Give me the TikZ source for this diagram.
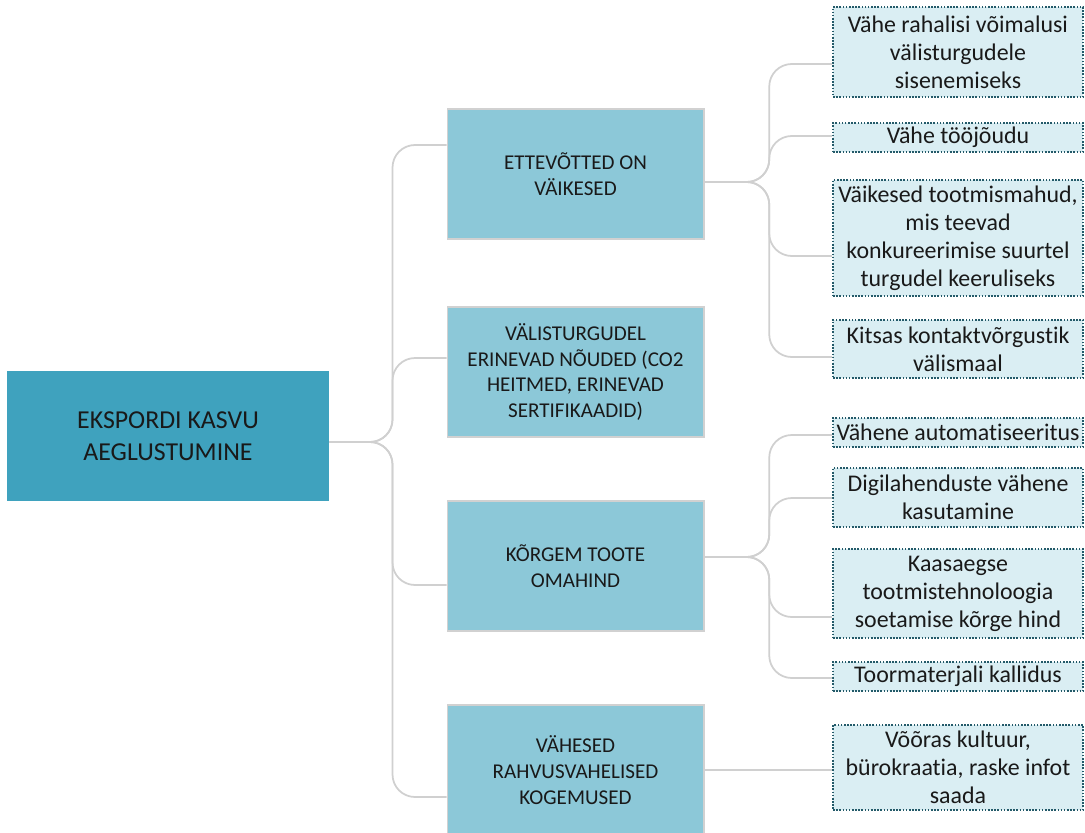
\documentclass[tikz,border=0pt]{standalone}
\usepackage{fontspec}
\setmainfont[RawFeature={-liga;-clig;-calt;-dlig}]{Carlito}
\usetikzlibrary{positioning,calc}
\definecolor{rootteal}{RGB}{63,162,190}
\definecolor{midteal}{RGB}{140,200,216}
\definecolor{leafteal}{RGB}{218,238,243}
\definecolor{dotline}{RGB}{35,90,105}
\definecolor{linkgray}{RGB}{208,208,208}

\tikzset{
  rootbox/.style={rectangle, fill=rootteal, minimum width=6.44cm, minimum height=2.6cm,
    align=center, inner sep=0pt, text=black!90, font=\fontsize{14.7}{17.9}\selectfont},
  midbox/.style={rectangle, fill=midteal, draw=black!18, line width=0.6pt,
    minimum width=5.14cm, minimum height=2.6cm, align=center, inner sep=0pt,
    text=black!90, font=\fontsize{12}{14.7}\selectfont},
  leafbox/.style={rectangle, fill=leafteal, draw=dotline, line width=0.9pt,
    dash pattern=on 0.9pt off 0.9pt, minimum width=5cm, align=center, inner sep=0pt,
    text=black!90, font=\fontsize{13.6}{16}\selectfont},
  link/.style={draw=linkgray, line width=1pt, rounded corners=0.45cm},
  branch/.style={to path={-| ([xshift=-#1]\tikztotarget) -- (\tikztotarget)}},
}

\begin{document}
\begin{tikzpicture}[x=0.02cm, y=-0.02cm]
\useasboundingbox (0,0) rectangle (1085,832);

% Root
\node[rootbox] (root) at (168,436) {EKSPORDI KASVU\\AEGLUSTUMINE};

% Middle level
\node[midbox] (m1) at (575.5,174) {ETTEVÕTTED ON\\VÄIKESED};
\node[midbox] (m2) at (575.5,372) {VÄLISTURGUDEL\\ERINEVAD NÕUDED (CO2\\HEITMED, ERINEVAD\\SERTIFIKAADID)};
\node[midbox] (m3) at (575.5,566) {KÕRGEM TOOTE\\OMAHIND};
\node[midbox] (m4) at (575.5,770) {VÄHESED\\RAHVUSVAHELISED\\KOGEMUSED};

% Leaves
\node[leafbox, minimum height=1.8cm] (l1) at (958,52) {Vähe rahalisi võimalusi\\välisturgudele\\sisenemiseks};
\node[leafbox, minimum height=0.58cm] (l2) at (958,137.5) {Vähe tööjõudu};
\node[leafbox, minimum height=2.32cm] (l3) at (958,238) {Väikesed tootmismahud,\\mis teevad\\konkureerimise suurtel\\turgudel keeruliseks};
\node[leafbox, minimum height=1.16cm] (l4) at (958,349) {Kitsas kontaktvõrgustik\\välismaal};
\node[leafbox, minimum height=0.58cm] (l5) at (958,432.5) {Vähene automatiseeritus};
\node[leafbox, minimum height=1.18cm] (l6) at (958,497.5) {Digilahenduste vähene\\kasutamine};
\node[leafbox, minimum height=1.78cm] (l7) at (958,593.5) {Kaasaegse\\tootmistehnoloogia\\soetamise kõrge hind};
\node[leafbox, minimum height=0.58cm] (l8) at (958,676.5) {Toormaterjali kallidus};
\node[leafbox, minimum height=1.7cm] (l9) at (958,767.5) {Võõras kultuur,\\bürokraatia, raske infot\\saada};

% Root to middle
\draw[link] (root.east |- 0,442) to[branch=1.08cm] (m1.west |- 0,145);
\draw[link] (root.east |- 0,442) to[branch=1.08cm] (m2.west |- 0,358);
\draw[link] (root.east |- 0,442) to[branch=1.08cm] (m3.west |- 0,585);
\draw[link] (root.east |- 0,442) to[branch=1.08cm] (m4.west |- 0,797);

% Middle to leaves
\foreach \leaf/\ly in {l1/64, l2/136, l3/256, l4/357}
  \draw[link] (m1.east |- 0,182) to[branch=1.26cm] (\leaf.west |- 0,\ly);
\foreach \leaf/\ly in {l5/435, l6/498, l7/617, l8/678}
  \draw[link] (m3.east |- 0,557) to[branch=1.26cm] (\leaf.west |- 0,\ly);
\draw[link] (m4.east |- 0,770) -- (l9.west |- 0,770);

\end{tikzpicture}
\end{document}
